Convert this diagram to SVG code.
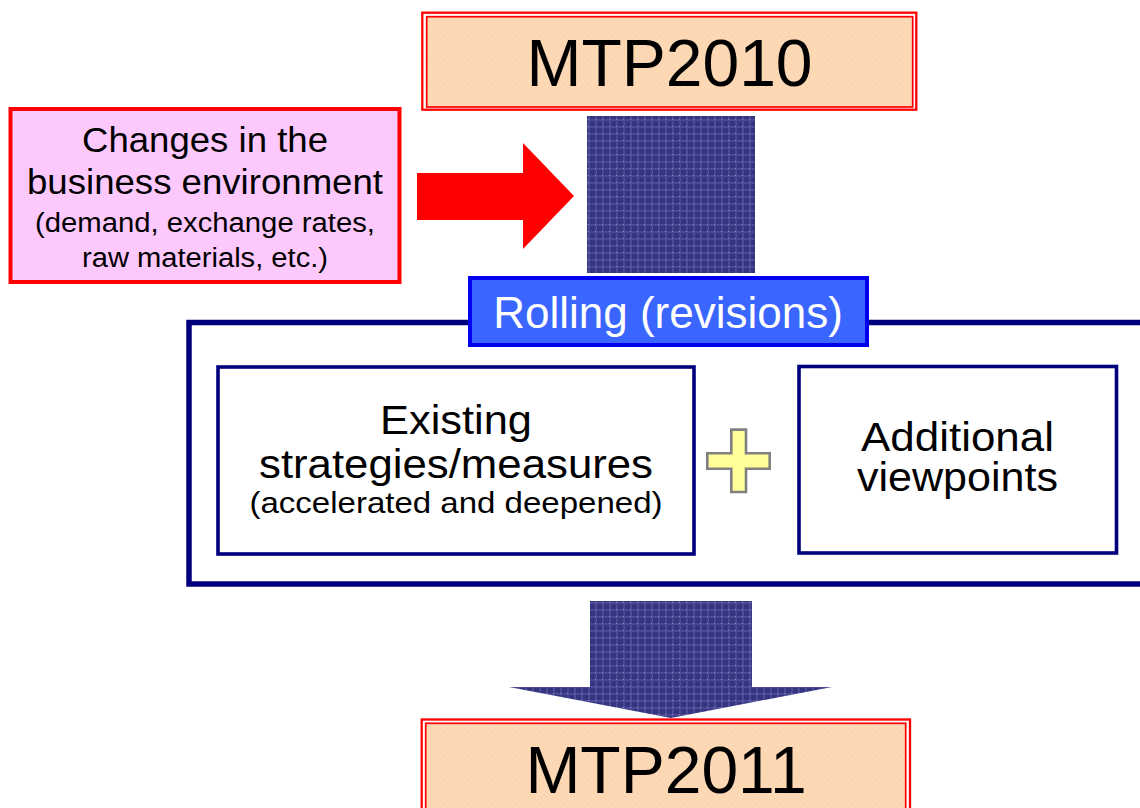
<svg xmlns="http://www.w3.org/2000/svg" width="1140" height="808" viewBox="0 0 1140 808">
  <defs>
    <!-- woven navy texture used by the block arrows -->
    <pattern id="weave" width="7" height="7" patternUnits="userSpaceOnUse">
      <rect width="7" height="7" fill="#35357f"/>
      <rect x="0" y="0" width="7" height="2" fill="#4a4a97"/>
      <rect x="0" y="0" width="2" height="7" fill="#4a4a97"/>
      <rect x="0" y="0" width="1" height="1" fill="#8c8cc4"/>
    </pattern>
    <!-- faint crosshatch on the peach plan boxes -->
    <pattern id="peach" width="6" height="6" patternUnits="userSpaceOnUse">
      <rect width="6" height="6" fill="#fdd9b6"/>
      <path d="M0 6 L6 0 M0 0 L6 6" stroke="#f9d1ab" stroke-width="0.6"/>
    </pattern>
    <style>
      .t { font-family: "Liberation Sans", Arial, sans-serif; text-anchor: middle; fill: #000; }
      .big { font-size: 66px; }
      .plan-outer { fill: #ffffff; stroke: #ff0000; stroke-width: 2.3; }
      .plan-inner { fill: url(#peach); stroke: #ff0000; stroke-width: 1.7; }
      .navy { fill: none; stroke: #00007f; }
      .inner-box { fill: #ffffff; stroke: #00007f; stroke-width: 3.6; }
    </style>
  </defs>

  <rect width="1140" height="808" fill="#ffffff"/>

  <!-- large frame for the revision step (open to the right) -->
  <g id="frame">
    <path class="navy" stroke-width="5.5" d="M1145 322.5 H189 V584 H1145"/>
  </g>

  <g id="connectors">
    <!-- environment changes push into the plan -->
    <polygon fill="#ff0000" points="417,173 523,173 523,143 574,196 523,249 523,220 417,220"/>
    <!-- block linking MTP2010 to the rolling step -->
    <rect x="587" y="116" width="168" height="157" fill="url(#weave)"/>
    <!-- result flows down to MTP2011 -->
    <polygon fill="url(#weave)" points="590,601 752,601 752,687 832,687 671,718 509,687 590,687"/>
  </g>

  <g id="mtp2010">
    <rect class="plan-outer" x="422.3" y="12.7" width="494" height="97"/>
    <rect class="plan-inner" x="426.7" y="16.7" width="486" height="90.3"/>
    <text class="t big" x="669.5" y="86">MTP2010</text>
  </g>

  <g id="environment">
    <rect x="10.5" y="109" width="389" height="173" fill="#fdc9fd" stroke="#ff0000" stroke-width="4"/>
    <text class="t" font-size="34.5" x="205" y="152" textLength="246" lengthAdjust="spacingAndGlyphs">Changes in the</text>
    <text class="t" font-size="34.5" x="205" y="194" textLength="356" lengthAdjust="spacingAndGlyphs">business environment</text>
    <text class="t" font-size="27" x="205" y="232" textLength="340" lengthAdjust="spacingAndGlyphs">(demand, exchange rates,</text>
    <text class="t" font-size="27" x="205" y="267" textLength="246" lengthAdjust="spacingAndGlyphs">raw materials, etc.)</text>
  </g>

  <g id="rolling">
    <rect x="470" y="278" width="397" height="67" fill="#3a66ff" stroke="#0000ee" stroke-width="4"/>
    <text class="t" font-size="44" x="668" y="328" style="fill:#ffffff">Rolling (revisions)</text>
  </g>

  <g id="existing">
    <rect class="inner-box" x="218" y="367" width="476" height="187"/>
    <text class="t" font-size="40" x="456" y="434" textLength="152" lengthAdjust="spacingAndGlyphs">Existing</text>
    <text class="t" font-size="40" x="456" y="478" textLength="394" lengthAdjust="spacingAndGlyphs">strategies/measures</text>
    <text class="t" font-size="29.5" x="456" y="513" textLength="413" lengthAdjust="spacingAndGlyphs">(accelerated and deepened)</text>
  </g>

  <g id="plus">
    <polygon fill="#ffff99" stroke="#808080" stroke-width="2.6"
      points="731.3,429.6 746,429.6 746,453.3 769.7,453.3 769.7,468.7 746,468.7 746,492 731.3,492 731.3,468.7 707.3,468.7 707.3,453.3 731.3,453.3"/>
  </g>

  <g id="additional">
    <rect class="inner-box" x="799" y="366.5" width="317.5" height="186.5"/>
    <text class="t" font-size="40" x="957.5" y="451" textLength="193" lengthAdjust="spacingAndGlyphs">Additional</text>
    <text class="t" font-size="40" x="957.5" y="491" textLength="201" lengthAdjust="spacingAndGlyphs">viewpoints</text>
  </g>

  <g id="mtp2011">
    <rect class="plan-outer" x="421.7" y="719.5" width="488.3" height="200"/>
    <rect class="plan-inner" x="425.7" y="723.3" width="480" height="200"/>
    <text class="t big" x="666" y="793">MTP2011</text>
  </g>
</svg>
